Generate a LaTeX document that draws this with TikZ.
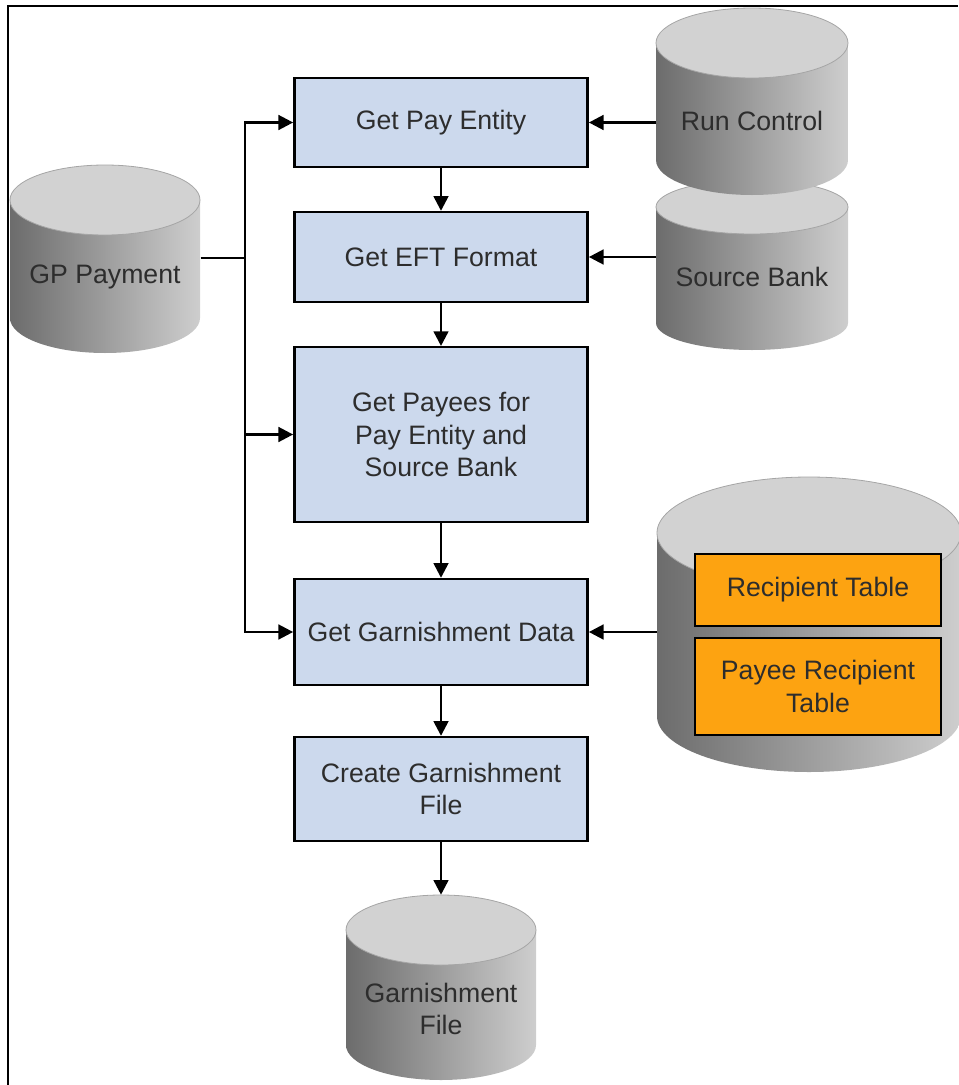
\documentclass[tikz,border=0pt]{standalone}
\usepackage{fontspec}
\setmainfont{Liberation Sans}
\usepackage{xcolor}
\usepackage{tikz}
\usetikzlibrary{arrows.meta,positioning,calc}
\definecolor{boxblue}{RGB}{204,217,237}
\definecolor{tblorange}{RGB}{253,163,17}
\definecolor{drumdark}{RGB}{108,108,108}
\definecolor{drumlight}{RGB}{206,206,206}
\definecolor{drumtop}{RGB}{210,210,210}
\definecolor{drumedge}{RGB}{165,165,165}
\definecolor{txt}{RGB}{45,45,45}
\tikzset{
  lbl/.style={align=center, text=txt, font=\fontsize{20}{24.5}\selectfont, inner sep=0pt},
  proc/.style={lbl, draw, line width=1.8pt, fill=boxblue, minimum width=220pt},
  tbl/.style={lbl, draw, line width=1.8pt, fill=tblorange, minimum width=184.5pt},
  db/.style={lbl, minimum width=143pt},
  line/.style={line width=1.9pt},
  arr/.style={line, -{Triangle[length=11pt,width=11pt]}}
}
% drum: centre x, top y, bottom y, x radius, y radius
\newcommand{\drum}[5]{%
  \shade[left color=drumdark, right color=drumlight]
    (#1-#4,#2) -- (#1-#4,#3) arc[start angle=180, end angle=0, x radius=#4, y radius=#5]
    -- (#1+#4,#2) -- cycle;
  \draw[fill=drumtop, draw=drumedge, line width=0.6pt] (#1,#2) ellipse[x radius=#4, y radius=#5];
}
\begin{document}
\begin{tikzpicture}[x=0.75pt,y=-0.75pt]
    \useasboundingbox (0,0) rectangle (958,1085);
    % Frame
    \draw[line width=1.5pt] (8,1085) -- (8,6) -- (958,6);
    % Drums
    \drum{105}{200}{318}{95}{35}
    \drum{752}{207}{323}{96}{27}
    \drum{752}{43}{160}{96}{35}
    \drum{809}{533}{716}{152}{56}
    \drum{441}{930}{1045}{95}{35}
    % Drum labels
    \node[db] (gp) at (105,277) {GP Payment};
    \node[db] (rc) at (752,121) {Run Control};
    \node[db] (sb) at (752,277) {Source Bank};
    \node[db, minimum width=228pt] (rdb) at (809,632) {};
    \node[db, minimum height=171pt] (gf) at (441,1009) {Garnishment\\File};
    % Tables
    \node[tbl, minimum height=54pt] (rt) at (818,590) {Recipient Table};
    \node[tbl, minimum height=72.75pt] (prt) at (818,686.5) {Payee Recipient\\Table};
    % Steps
    \node[proc, minimum height=66.75pt] (pe) at (441,122.5) {Get Pay Entity};
    \node[proc, minimum height=67.5pt] (eft) at (441,257) {Get EFT Format};
    \node[proc, minimum height=131pt] (pay) at (441,434.5) {Get Payees for\\Pay Entity and\\Source Bank};
    \node[proc, minimum height=79.5pt] (gd) at (441,632) {Get Garnishment Data};
    \node[proc, minimum height=78pt] (cg) at (441,789) {Create Garnishment\\File};
    % Flow
    \draw[arr] (pe) -- (eft);
    \draw[arr] (eft) -- (pay);
    \draw[arr] (pay) -- (gd);
    \draw[arr] (gd) -- (cg);
    \draw[arr] (cg.south) -- (gf.north);
    % Inputs
    \coordinate (split) at (245,258);
    \draw[line] (gp.east |- split) -- (split);
    \draw[arr] (split) |- (pe.west);
    \draw[arr] (split) |- (gd.west);
    \draw[arr] (split |- pay.west) -- (pay.west);
    \draw[arr] (rc.west |- pe.east) -- (pe.east);
    \draw[arr] (sb.west |- eft.east) -- (eft.east);
    \draw[arr] (rdb.west |- gd.east) -- (gd.east);
\end{tikzpicture}
\end{document}
